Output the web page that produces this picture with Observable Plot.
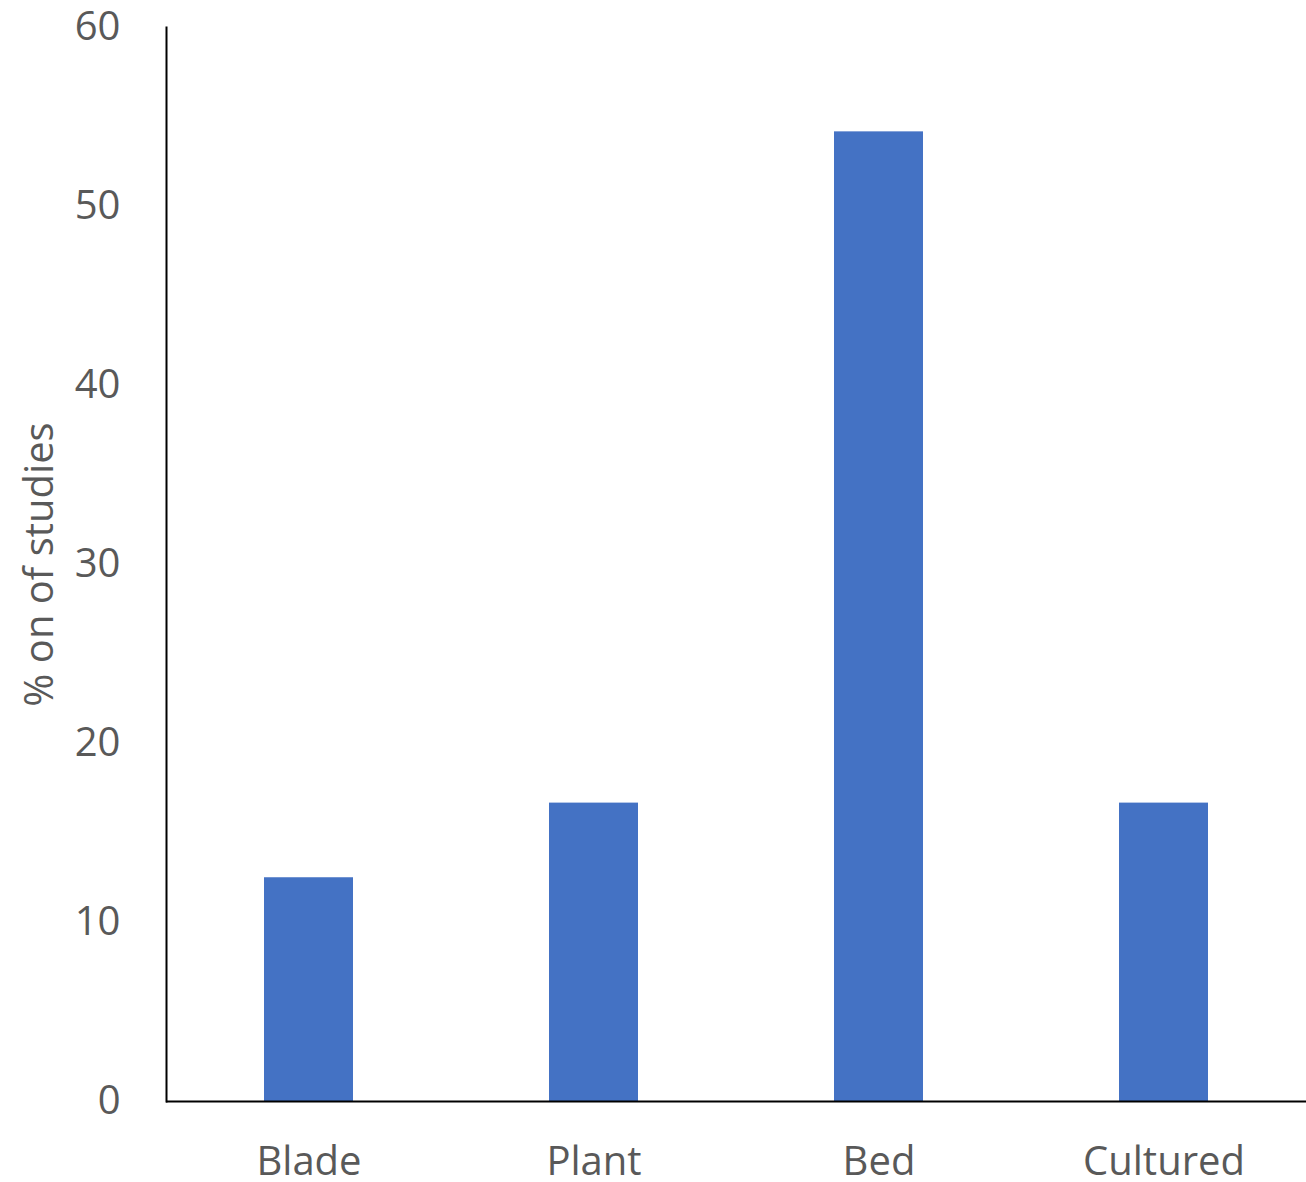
<!DOCTYPE html>
<html>
<head>
<meta charset="utf-8">
<script src="https://cdn.jsdelivr.net/npm/d3@7"></script>
<script src="https://cdn.jsdelivr.net/npm/@observablehq/plot@0.6"></script>
<style>
  html, body { margin: 0; padding: 0; background: #fff; }
  #chart svg { display: block; }
</style>
</head>
<body>
<div id="chart"></div>
<script>
const categories = ["Blade", "Plant", "Bed", "Cultured"];
const values = [12.5, 16.67, 54.17, 16.67];
const yTicks = [0, 10, 20, 30, 40, 50, 60];
const yLabel = "% on of studies";

const data = categories.map((c, i) => ({category: c, value: values[i]}));

const chart = Plot.plot({
  width: 1306,
  height: 1182,
  marginLeft: 166,
  marginRight: 0,
  marginTop: 27,
  marginBottom: 81,
  style: {fontFamily: "'Open Sans', sans-serif", color: "#595959", background: "#fff", overflow: "visible"},
  x: {domain: categories, paddingInner: 0.688, paddingOuter: 0.344, label: null},
  y: {domain: [0, 60], label: null},
  marks: [
    Plot.barY(data, {x: "category", y: "value", fill: "#4472C4"}),
    Plot.axisY({ticks: yTicks, tickSize: 0, tickPadding: 46, fontSize: 40, label: null}),
    Plot.axisX({tickSize: 0, tickPadding: 45, fontSize: 40, label: null}),
    Plot.text([yLabel], {frameAnchor: "left", dx: -126, rotate: -90, textAnchor: "middle", fontSize: 40, fill: "#595959", text: d => d}),
    Plot.frame({anchor: "left", stroke: "black", strokeWidth: 2}),
    Plot.ruleY([0], {stroke: "black", strokeWidth: 2})
  ]
});
document.getElementById("chart").appendChild(chart);
</script>
</body>
</html>
